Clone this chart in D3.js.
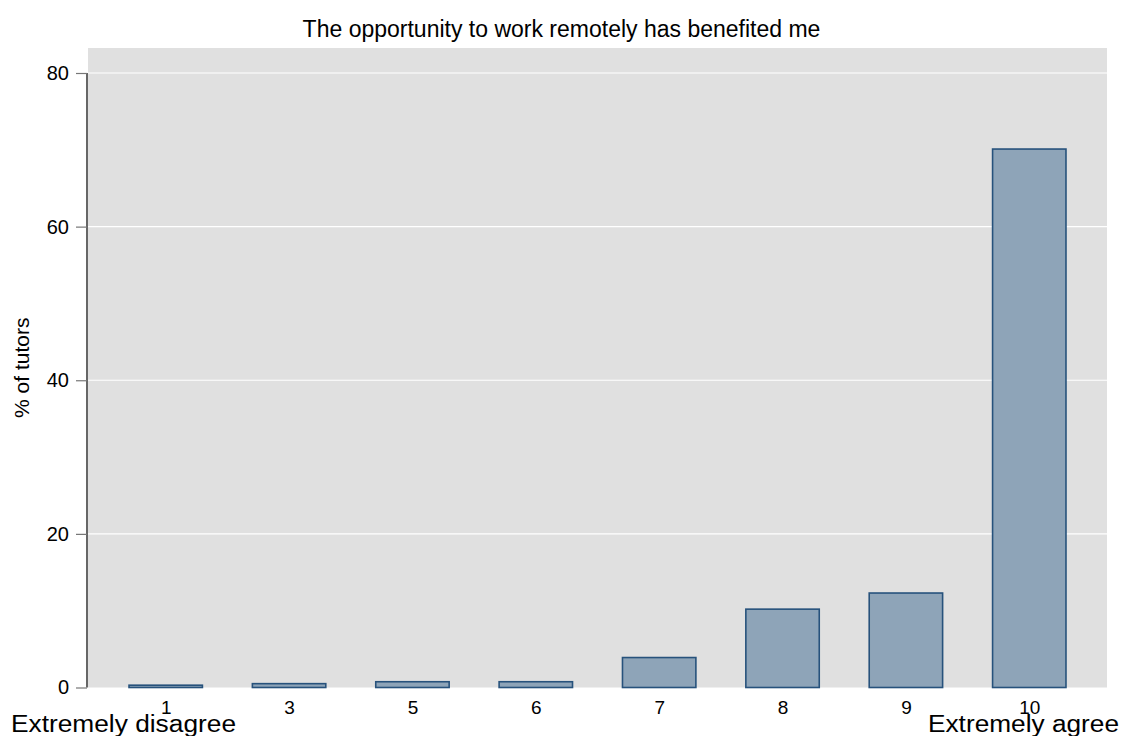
<!DOCTYPE html>
<html><head><meta charset="utf-8">
<script src="https://cdn.jsdelivr.net/npm/d3@7"></script>
<style>body{margin:0;background:#fff;font-family:"Liberation Sans",Arial,sans-serif}</style>
</head><body><svg id="c" width="1123" height="736"></svg>
<script>
const categories = ["1","3","5","6","7","8","9","10"];
const values = [0.3, 0.5, 0.75, 0.75, 3.9, 10.2, 12.3, 70.1];
const yTicks = [0, 20, 40, 60, 80];
const title = "The opportunity to work remotely has benefited me";
const yTitle = "% of tutors";
const leftNote = "Extremely disagree";
const rightNote = "Extremely agree";

const FF = "Liberation Sans, Arial, sans-serif";
const svg = d3.select("#c");
const L = 88, R = 1107, T = 48, B = 687.5;
const x = d3.scalePoint().domain(categories).range([L, R]).padding(0.63);
const y = d3.scaleLinear().domain([0, 80]).range([B, 73]);
const bw = x.step() * 0.595;

svg.append("rect").attr("x", L).attr("y", T).attr("width", R - L).attr("height", B - T).attr("fill", "#e0e0e0");
svg.append("g").selectAll("line").data(yTicks.filter(d => d > 0)).join("line")
  .attr("x1", L).attr("x2", R).attr("y1", d => y(d)).attr("y2", d => y(d))
  .attr("stroke", "#fff").attr("stroke-width", 1.2);

svg.append("g").selectAll("rect").data(values).join("rect")
  .attr("x", (d, i) => x(categories[i]) - bw / 2)
  .attr("y", d => y(d))
  .attr("width", bw)
  .attr("height", d => y(0) - y(d))
  .attr("fill", "#8ea4b8").attr("stroke", "#27527c").attr("stroke-width", 1.6);

const ya = svg.append("g").attr("transform", `translate(${L - 1},0)`)
  .call(d3.axisLeft(y).tickValues(yTicks).tickSize(11).tickPadding(7).tickSizeOuter(0));
ya.select(".domain").attr("stroke", "#000").attr("stroke-width", 1.2).attr("d", `M0,${y(80)}V${y(0)}`);
ya.selectAll(".tick line").attr("stroke", "#777").attr("stroke-width", 1.2);
ya.selectAll("text").attr("font-size", 20).attr("font-family", FF).attr("fill", "#000");

const xa = svg.append("g").attr("transform", `translate(0,${B})`)
  .call(d3.axisBottom(x).tickSize(0).tickPadding(0));
xa.select(".domain").remove();
xa.selectAll("text").attr("font-size", 19).attr("font-family", FF).attr("fill", "#000")
  .attr("dy", null).attr("y", 26.5);

svg.append("text").attr("x", 1123 / 2).attr("y", 37).attr("text-anchor", "middle")
  .attr("font-family", FF).attr("font-size", 23).text(title);
svg.append("text").attr("transform", `translate(29,${(T + B) / 2}) rotate(-90)`).attr("text-anchor", "middle")
  .attr("font-family", FF).attr("font-size", 21).text(yTitle);
svg.append("text").attr("x", 11).attr("y", 732).attr("font-family", FF).attr("font-size", 23.5)
  .attr("textLength", 225).attr("lengthAdjust", "spacingAndGlyphs").text(leftNote);
svg.append("text").attr("x", 928).attr("y", 732).attr("font-family", FF).attr("font-size", 23.5)
  .attr("textLength", 191).attr("lengthAdjust", "spacingAndGlyphs").text(rightNote);
</script></body></html>
